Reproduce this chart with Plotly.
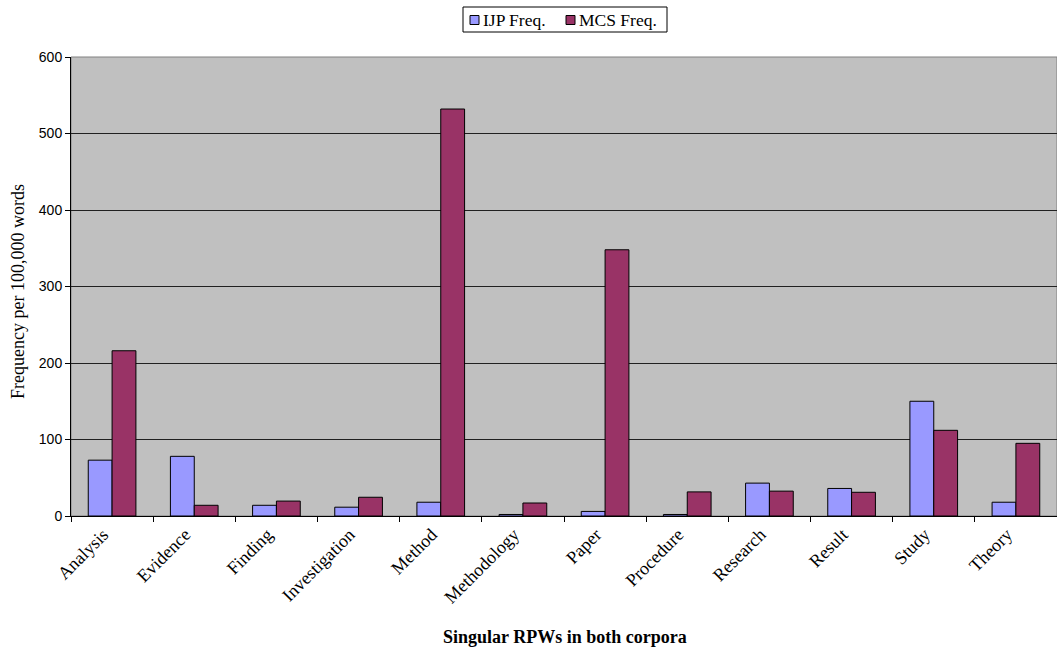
import plotly.graph_objects as go

categories = ["Analysis", "Evidence", "Finding", "Investigation", "Method", "Methodology",
              "Paper", "Procedure", "Research", "Result", "Study", "Theory"]
ijp_freq = [73, 78, 14, 11.5, 18, 2, 6, 2, 43, 36, 150, 18]
mcs_freq = [216, 14, 19.5, 24.5, 532, 17, 348, 31.5, 32.5, 31, 112, 95]
series_names = ["IJP Freq.", "MCS Freq."]
series_colors = ["#9999FF", "#993366"]

serif = "Liberation Serif, Times New Roman, serif"
sans = "Liberation Sans, Arial, sans-serif"

W, H = 1057, 647
L, R, T, B = 71, 0, 57, 131
plot_w = W - L - R
plot_h = H - T - B


def px_x(px):
    return (px - L) / plot_w


def px_y(py):
    return (H - B - py) / plot_h


fig = go.Figure()
for vals, name, color in zip([ijp_freq, mcs_freq], series_names, series_colors):
    fig.add_trace(go.Bar(x=categories, y=vals, name=name, showlegend=False,
                         marker=dict(color=color, line=dict(color="#000000", width=1))))

fig.update_layout(
    width=W, height=H,
    margin=dict(l=L, r=R, t=T, b=B),
    paper_bgcolor="white",
    plot_bgcolor="#C0C0C0",
    barmode="group",
    bargap=0.42,
    bargroupgap=0,
    xaxis=dict(
        type="category",
        tickson="boundaries",
        ticks="outside", ticklen=5, tickcolor="#000000",
        showline=True, linecolor="#000000", linewidth=1,
        showgrid=False,
        tickangle=-45,
        ticklabelshift=-9,
        tickfont=dict(family=serif, size=18, color="black"),
    ),
    yaxis=dict(
        range=[0, 600], dtick=100,
        ticks="outside", ticklen=5, tickcolor="#000000",
        showline=True, linecolor="#000000", linewidth=1,
        showgrid=True, gridcolor="#202020", gridwidth=1,
        zeroline=False,
        tickfont=dict(family=sans, size=14, color="black"),
    ),
)

annotations = [
    dict(text="<b>Singular RPWs in both corpora</b>", xref="paper", yref="paper",
         x=0.501, y=-0.2636, xanchor="center", yanchor="middle", showarrow=False,
         font=dict(family=serif, size=18, color="black")),
    dict(text="Frequency per 100,000 words", xref="paper", yref="paper",
         x=-0.0538, y=0.49, xanchor="center", yanchor="middle", showarrow=False,
         textangle=-90, font=dict(family=serif, size=18, color="black")),
]

shapes = [
    # plot-area frame
    dict(type="rect", xref="paper", yref="paper", x0=0, y0=0, x1=1, y1=1,
         line=dict(color="#808080", width=1), layer="below"),
    # legend box
    dict(type="rect", xref="paper", yref="paper",
         x0=px_x(463), x1=px_x(667), y0=px_y(32), y1=px_y(7),
         line=dict(color="#000000", width=1), fillcolor="white"),
]

# legend entries: swatch + label
swatch_x = [470, 566]
for sx, name, color in zip(swatch_x, series_names, series_colors):
    shapes.append(dict(type="rect", xref="paper", yref="paper",
                       x0=px_x(sx), x1=px_x(sx + 9), y0=px_y(24.5), y1=px_y(15.5),
                       line=dict(color="#000000", width=1), fillcolor=color))
    annotations.append(dict(text=name, xref="paper", yref="paper",
                            x=px_x(sx + 11), y=px_y(20), xanchor="left", yanchor="middle",
                            showarrow=False,
                            font=dict(family=serif, size=17.5, color="black")))

fig.update_layout(shapes=shapes, annotations=annotations)

fig.write_html("out.html")
